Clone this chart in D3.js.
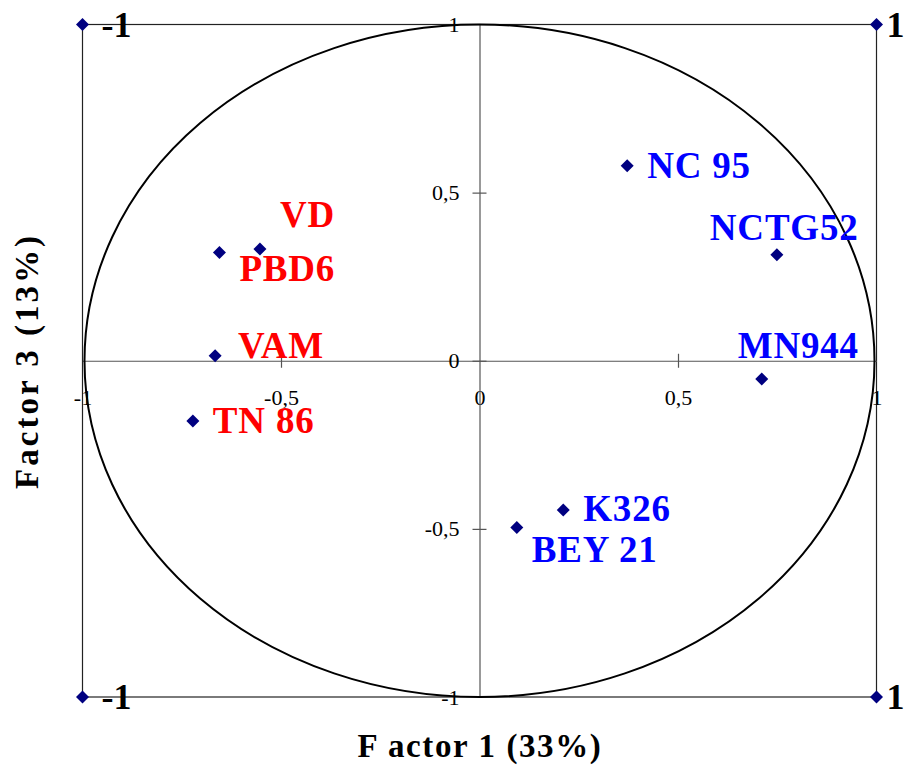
<!DOCTYPE html>
<html><head><meta charset="utf-8">
<script src="https://cdn.jsdelivr.net/npm/d3@7"></script>
<style>
html,body{margin:0;padding:0;background:#fff;}
text{font-family:"Liberation Serif","Times New Roman",serif;}
</style></head>
<body>
<svg id="chart" width="906" height="771"></svg>
<script>
// ---- data ----
const names   = ["NC 95","NCTG52","MN944","K326","BEY 21","VD","PBD6","VAM","TN 86"];
const factor1 = [0.372, 0.749, 0.711, 0.211, 0.094, -0.553, -0.655, -0.666, -0.722];
const factor3 = [0.580, 0.315, -0.054, -0.444, -0.496, 0.332, 0.322, 0.015, -0.179];
const groups  = ["B","B","B","B","B","R","R","R","R"];
const cornerX = [-1, 1, -1, 1];
const cornerY = [1, 1, -1, -1];
const cornerLabels = ["-1","1","-1","1"];
const tickValues = [-1, -0.5, 0, 0.5, 1];
const xTitle = "F actor 1 (33%)";
const yTitle = "Factor 3 (13%)";

// ---- layout (label offsets in px) ----
const labelDX = [20, -67, -24, 20, 15, 20, 20, 23, 20];
const labelDY = [12, -15, -21, 11, 34, -22, 29, 2, 12];
const colors = {B:"#0000FF", R:"#FF0000"};

const svg = d3.select("#chart");
const x = d3.scaleLinear().domain([-1,1]).range([82.5,876.5]);
const y = d3.scaleLinear().domain([-1,1]).range([697,24.5]);

const loc = d3.formatLocale({decimal:",", thousands:".", grouping:[3], currency:["",""], minus:"-"});
const fmt = loc.format("");

// frame
svg.append("rect")
  .attr("x", x(-1)).attr("y", y(1))
  .attr("width", x(1)-x(-1)).attr("height", y(-1)-y(1))
  .attr("fill","none").attr("stroke","#222").attr("stroke-width",1.2);

// zero axes with tick labels
const gx = svg.append("g").attr("transform",`translate(0,${y(0)})`)
  .call(d3.axisBottom(x).tickValues(tickValues).tickSize(0).tickSizeOuter(0).tickPadding(29).tickFormat(fmt));
const gy = svg.append("g").attr("transform",`translate(${x(0)},0)`)
  .call(d3.axisLeft(y).tickValues(tickValues).tickSize(0).tickSizeOuter(0).tickPadding(20).tickFormat(fmt));
[gx,gy].forEach(g=>{
  g.select(".domain").attr("stroke","#555").attr("stroke-width",1.2);
  g.selectAll("text").attr("font-size",22).attr("fill","#000")
    .style("font-family",'"Liberation Serif","Times New Roman",serif');
});
// crossing tick marks
const tx = svg.append("g").attr("transform",`translate(0,${y(0)})`)
  .call(d3.axisBottom(x).tickValues([-0.5,0.5]).tickSize(7).tickFormat(""));
tx.select(".domain").remove();
tx.selectAll("line").attr("y1",-7).attr("stroke","#555").attr("stroke-width",1.2);
const ty = svg.append("g").attr("transform",`translate(${x(0)},0)`)
  .call(d3.axisLeft(y).tickValues([-0.5,0,0.5]).tickSize(7).tickFormat(""));
ty.select(".domain").remove();
ty.selectAll("line").attr("x1",7).attr("stroke","#555").attr("stroke-width",1.2);

// correlation circle
svg.append("ellipse")
  .attr("cx", x(0)).attr("cy", y(0))
  .attr("rx", x(1)-x(0)-2).attr("ry", y(0)-y(1))
  .attr("fill","none").attr("stroke","#000").attr("stroke-width",2);

const diamond = (cx,cy,r)=>`M${cx},${cy-r}L${cx+r},${cy}L${cx},${cy+r}L${cx-r},${cy}Z`;

// corner points
svg.append("g").selectAll("path").data(cornerX).join("path")
  .attr("d",(d,i)=>diamond(x(d), y(cornerY[i]), 6.5))
  .attr("fill","#000080");
svg.append("g").selectAll("text").data(cornerLabels).join("text")
  .attr("x",(d,i)=> cornerX[i] < 0 ? x(cornerX[i]) + 19 : x(cornerX[i]) + 10)
  .attr("y",(d,i)=> y(cornerY[i]) + 12)
  .attr("font-size",36).attr("font-weight","bold").attr("fill","#000")
  .text(d=>d);

// variable points
svg.append("g").selectAll("path").data(names).join("path")
  .attr("d",(d,i)=>diamond(x(factor1[i]), y(factor3[i]), 6.5))
  .attr("fill","#000080");
svg.append("g").selectAll("text").data(names).join("text")
  .attr("x",(d,i)=>x(factor1[i]) + labelDX[i])
  .attr("y",(d,i)=>y(factor3[i]) + labelDY[i])
  .attr("font-size",37).attr("font-weight","bold").attr("letter-spacing",0.8)
  .attr("fill",(d,i)=>colors[groups[i]])
  .text(d=>d);

// axis titles
svg.append("text").attr("x",480).attr("y",757).attr("text-anchor","middle")
  .attr("font-size",33).attr("font-weight","bold").attr("letter-spacing",1.6).text(xTitle);
svg.append("text").attr("transform","translate(38,361) rotate(-90)").attr("text-anchor","middle")
  .attr("font-size",33).attr("font-weight","bold").attr("letter-spacing",3).text(yTitle);
</script>
</body></html>
